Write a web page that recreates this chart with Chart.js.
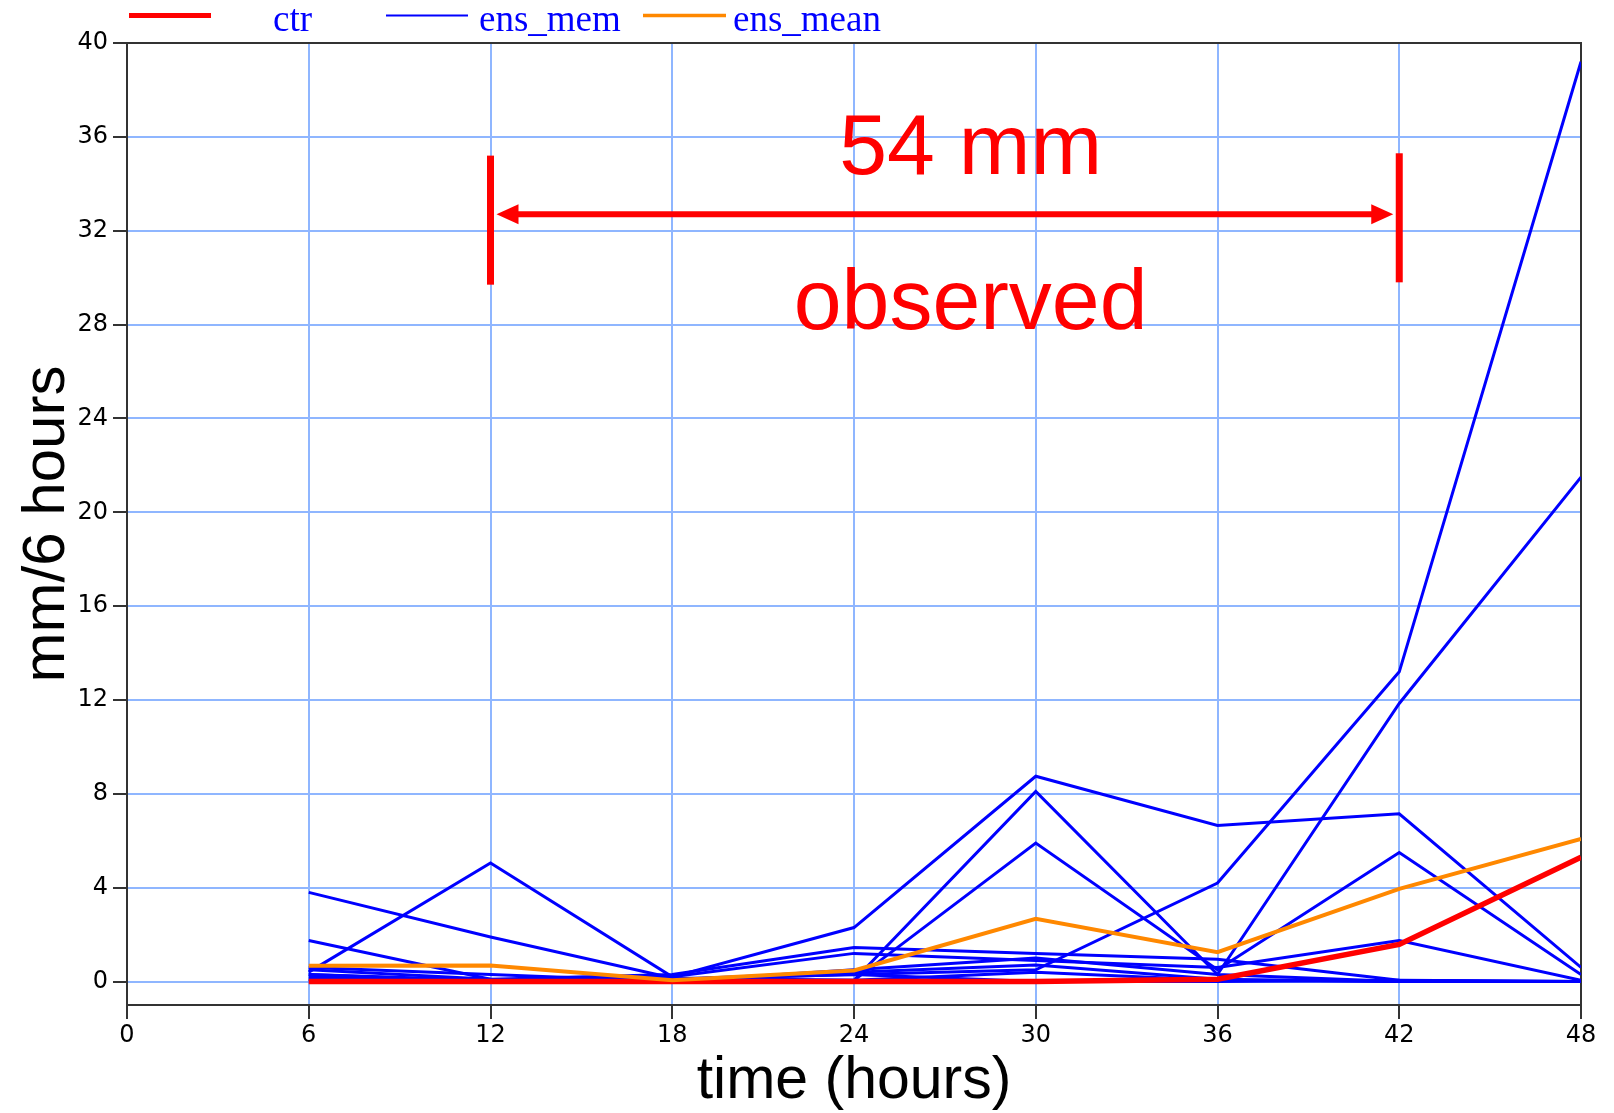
<!DOCTYPE html>
<html>
<head>
<meta charset="utf-8">
<script src="https://cdn.jsdelivr.net/npm/chart.js@4.4.0/dist/chart.umd.min.js"></script>
<style>
    html, body { margin: 0; padding: 0; background: #ffffff; }
    #wrap { width: 1614px; height: 1113px; }
</style>
</head>
<body>
<div id="wrap"><canvas id="graficoPrecip" width="1614" height="1113"></canvas></div>
<script>
// eixo x: horas de previsao (os dados comecam em 6)
const horas = [6, 12, 18, 24, 30, 36, 42, 48];
const xTicks = [0, 6, 12, 18, 24, 30, 36, 42, 48];
const yTicks = [0, 4, 8, 12, 16, 20, 24, 28, 32, 36, 40];

// controle e media do ensemble (mm/6 horas)
const ctr = [0, 0, 0, 0, 0, 0.1, 1.58, 5.3];
const ensMean = [0.67, 0.68, 0.05, 0.47, 2.67, 1.25, 3.95, 6.08];

// membros do ensemble
const ensMem01 = [0.3, 0.05, 0.1, 0.3, 0.5, 4.2, 13.2, 39.2];
const ensMem02 = [0.4, 5.05, 0.2, 2.3, 8.75, 6.65, 7.15, 0.6];
const ensMem03 = [3.8, 1.9, 0.15, 0.05, 8.1, 0.3, 11.85, 21.5];
const ensMem04 = [1.75, 0.1, 0.05, 0.05, 5.9, 0.5, 5.5, 0.3];
const ensMem05 = [0.5, 0.1, 0.3, 1.45, 1.2, 0.95, 0.05, 0.0];
const ensMem06 = [0.2, 0.0, 0.2, 1.2, 0.9, 0.6, 1.75, 0.05];
const ensMem07 = [0.1, 0.0, 0.1, 0.4, 0.7, 0.1, 0.0, 0.0];
const ensMem08 = [0.0, 0.0, 0.0, 0.05, 0.4, 0.05, 0.0, 0.0];
const ensMem09 = [0.6, 0.3, 0.0, 0.5, 1.0, 0.3, 0.0, 0.0];
const ensMem10 = [0.3, 0.0, 0.1, 0.3, 0.0, 0.0, 0.05, 0.0];
const membros = [ensMem01, ensMem02, ensMem03, ensMem04, ensMem05,
                 ensMem06, ensMem07, ensMem08, ensMem09, ensMem10];

const legendaTextos = ['ctr', 'ens_mem', 'ens_mean'];

// anotacao "54 mm observed" (em coordenadas dos dados)
const obsInicio = 12;
const obsFim = 42;
const obsSetaY = 32.7;
const obsBarraTopo = 35.2;
const obsBarraBase = 29.7;
const obsTexto = ['54 mm', 'observed'];
const obsTextoX = 27.85;
const obsTextoY = [34.4, 27.8];

const AZUL = '#0000ff';
const VERMELHO = '#ff0000';
const LARANJA = '#ff8800';
const GRADE = '#8fb6ff';

Chart.defaults.font.family = '"Liberation Sans", Arial, Helvetica, sans-serif';
const fonteTicks = { family: '"DejaVu Sans", sans-serif', size: 24, weight: 'normal' };

const pontos = arr => arr.map((v, i) => ({ x: horas[i], y: v }));

const datasets = [];
membros.forEach((m, i) => {
    datasets.push({
        label: 'ens_mem ' + (i + 1),
        data: pontos(m),
        borderColor: AZUL,
        backgroundColor: AZUL,
        borderWidth: 3,
        pointRadius: 0,
        tension: 0,
        order: 3
    });
});
datasets.push({
    label: 'ctr',
    data: pontos(ctr),
    borderColor: VERMELHO,
    backgroundColor: VERMELHO,
    borderWidth: 5.5,
    pointRadius: 0,
    tension: 0,
    order: 2
});
datasets.push({
    label: 'ens_mean',
    data: pontos(ensMean),
    borderColor: LARANJA,
    backgroundColor: LARANJA,
    borderWidth: 4,
    pointRadius: 0,
    tension: 0,
    order: 1
});

// moldura, legenda e anotacao desenhadas por cima
const extras = {
    id: 'extras',
    beforeDatasetsDraw(chart) {
        const { ctx, chartArea: a } = chart;
        ctx.save();
        ctx.strokeStyle = '#333333';
        ctx.lineWidth = 2;
        ctx.beginPath();
        ctx.moveTo(a.left, a.top);
        ctx.lineTo(a.right, a.top);
        ctx.lineTo(a.right, a.bottom);
        ctx.stroke();
        ctx.restore();
    },
    afterDraw(chart) {
        const { ctx } = chart;
        const sx = chart.scales.x;
        const sy = chart.scales.y;

        // legenda
        const itens = [
            { cor: VERMELHO, lw: 5, x0: 129, x1: 211, tx: 273 },
            { cor: AZUL, lw: 2, x0: 386, x1: 468, tx: 479 },
            { cor: LARANJA, lw: 3.5, x0: 643, x1: 726, tx: 733 }
        ];
        ctx.save();
        ctx.font = '37px "Liberation Serif", "Times New Roman", serif';
        ctx.textBaseline = 'alphabetic';
        ctx.textAlign = 'left';
        itens.forEach((it, i) => {
            ctx.strokeStyle = it.cor;
            ctx.lineWidth = it.lw;
            ctx.beginPath();
            ctx.moveTo(it.x0, 15.5);
            ctx.lineTo(it.x1, 15.5);
            ctx.stroke();
            ctx.fillStyle = AZUL;
            ctx.fillText(legendaTextos[i], it.tx, 31);
        });
        ctx.restore();

        // anotacao
        const xa = sx.getPixelForValue(obsInicio);
        const xb = sx.getPixelForValue(obsFim);
        const ys = sy.getPixelForValue(obsSetaY);
        ctx.save();
        ctx.fillStyle = VERMELHO;
        ctx.strokeStyle = VERMELHO;
        ctx.fillRect(xa - 3.5, sy.getPixelForValue(obsBarraTopo), 7,
            sy.getPixelForValue(obsBarraBase) - sy.getPixelForValue(obsBarraTopo));
        ctx.fillRect(xb - 3.5, sy.getPixelForValue(obsBarraTopo + 0.1), 7,
            sy.getPixelForValue(obsBarraBase) - sy.getPixelForValue(obsBarraTopo));
        const ponta = 22, meia = 10;
        ctx.lineWidth = 6;
        ctx.beginPath();
        ctx.moveTo(xa + 6 + ponta - 2, ys);
        ctx.lineTo(xb - 6 - ponta + 2, ys);
        ctx.stroke();
        ctx.beginPath();
        ctx.moveTo(xa + 6, ys);
        ctx.lineTo(xa + 6 + ponta, ys - meia);
        ctx.lineTo(xa + 6 + ponta, ys + meia);
        ctx.closePath();
        ctx.fill();
        ctx.beginPath();
        ctx.moveTo(xb - 6, ys);
        ctx.lineTo(xb - 6 - ponta, ys - meia);
        ctx.lineTo(xb - 6 - ponta, ys + meia);
        ctx.closePath();
        ctx.fill();

        ctx.font = '86px "Liberation Sans", Arial, sans-serif';
        ctx.textAlign = 'center';
        ctx.textBaseline = 'alphabetic';
        obsTexto.forEach((t, i) => {
            ctx.fillText(t, sx.getPixelForValue(obsTextoX), sy.getPixelForValue(obsTextoY[i]));
        });
        ctx.restore();
    }
};

const corGrade = (ctx, borda) => {
    const v = ctx.tick ? ctx.tick.value : null;
    return (v === borda) ? 'rgba(0,0,0,0)' : GRADE;
};

new Chart(document.getElementById('graficoPrecip').getContext('2d'), {
    type: 'line',
    data: { datasets: datasets },
    options: {
        responsive: false,
        animation: false,
        layout: { padding: { top: 43, right: 33, left: 0, bottom: 0 } },
        plugins: {
            legend: { display: false },
            tooltip: { enabled: false }
        },
        scales: {
            x: {
                type: 'linear',
                min: 0,
                max: 48,
                afterBuildTicks: s => { s.ticks = xTicks.map(v => ({ value: v })); },
                afterFit: s => { s.height = 108; },
                grid: {
                    color: ctx => corGrade(ctx, 0),
                    lineWidth: 2,
                    tickLength: 14,
                    tickColor: '#333333',
                    tickWidth: 2
                },
                border: { color: '#333333', width: 2 },
                ticks: {
                    color: '#000000',
                    font: fonteTicks,
                    padding: 2,
                    maxRotation: 0,
                    autoSkip: false
                },
                title: {
                    display: true,
                    text: 'time (hours)',
                    color: '#000000',
                    font: { size: 59, lineHeight: 1.0 },
                    padding: { top: 0, bottom: 2 }
                }
            },
            y: {
                type: 'linear',
                min: -1,
                max: 40,
                afterBuildTicks: s => { s.ticks = yTicks.map(v => ({ value: v })); },
                afterFit: s => { s.width = 127; },
                grid: {
                    color: GRADE,
                    lineWidth: 2,
                    tickLength: 14,
                    tickColor: '#333333',
                    tickWidth: 2
                },
                border: { color: '#333333', width: 2 },
                ticks: {
                    color: '#000000',
                    font: fonteTicks,
                    padding: 5,
                    autoSkip: false
                },
                title: {
                    display: true,
                    text: 'mm/6 hours',
                    color: '#000000',
                    font: { size: 60, lineHeight: 1.2 },
                    padding: { top: 11, bottom: 0 }
                }
            }
        }
    },
    plugins: [extras]
});
</script>
</body>
</html>
